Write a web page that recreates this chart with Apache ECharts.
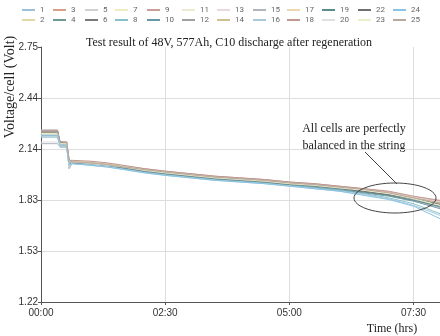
<!DOCTYPE html>
<html>
<head>
<meta charset="utf-8">
<script src="https://cdn.jsdelivr.net/npm/echarts@6/dist/echarts.min.js"></script>
<style>
  html, body { margin: 0; padding: 0; background: #fff; }
  #chart { width: 440px; height: 336px; }
</style>
</head>
<body>
<div id="chart"></div>
<script>
// time in minutes from start of discharge
var times = [0, 20, 23, 31, 34, 38, 60, 80, 100, 125, 150, 180, 210, 240, 270, 300, 330, 360, 390, 420, 450, 482];

// cell voltages (V), one array per cell
var v1  = [2.25, 2.25, 2.18, 2.18, 2.07, 2.06, 2.055, 2.045, 2.03, 2.01, 1.995, 1.98, 1.965, 1.955, 1.945, 1.93, 1.92, 1.905, 1.885, 1.86, 1.83, 1.79];
var v2  = [2.24, 2.24, 2.17, 2.17, 2.06, 2.06, 2.05, 2.04, 2.025, 2.01, 1.99, 1.975, 1.965, 1.95, 1.94, 1.93, 1.915, 1.9, 1.885, 1.865, 1.835, 1.8];
var v3  = [2.23, 2.23, 2.18, 2.18, 2.07, 2.065, 2.06, 2.05, 2.035, 2.015, 2.0, 1.985, 1.97, 1.96, 1.95, 1.935, 1.925, 1.91, 1.895, 1.875, 1.845, 1.815];
var v4  = [2.25, 2.25, 2.17, 2.16, 2.05, 2.055, 2.05, 2.04, 2.025, 2.005, 1.99, 1.975, 1.96, 1.95, 1.94, 1.925, 1.915, 1.9, 1.88, 1.86, 1.83, 1.79];
var v5  = [2.22, 2.22, 2.16, 2.16, 2.02, 2.06, 2.05, 2.04, 2.03, 2.01, 1.995, 1.98, 1.965, 1.955, 1.945, 1.93, 1.92, 1.905, 1.89, 1.87, 1.84, 1.8];
var v6  = [2.24, 2.24, 2.18, 2.17, 2.06, 2.06, 2.055, 2.045, 2.03, 2.015, 2.0, 1.985, 1.97, 1.96, 1.95, 1.935, 1.925, 1.91, 1.895, 1.875, 1.845, 1.81];
var v7  = [2.23, 2.23, 2.17, 2.17, 2.06, 2.065, 2.06, 2.05, 2.035, 2.015, 2.0, 1.985, 1.97, 1.955, 1.945, 1.935, 1.92, 1.905, 1.89, 1.87, 1.84, 1.805];
var v8  = [2.21, 2.21, 2.15, 2.15, 2.03, 2.05, 2.045, 2.035, 2.02, 2.0, 1.985, 1.97, 1.955, 1.945, 1.935, 1.92, 1.905, 1.89, 1.87, 1.845, 1.81, 1.75];
var v9  = [2.24, 2.24, 2.18, 2.18, 2.07, 2.065, 2.06, 2.05, 2.035, 2.02, 2.005, 1.99, 1.975, 1.965, 1.955, 1.94, 1.93, 1.915, 1.9, 1.88, 1.85, 1.825];
var v10 = [2.25, 2.25, 2.17, 2.17, 2.06, 2.055, 2.05, 2.04, 2.025, 2.005, 1.99, 1.975, 1.96, 1.95, 1.94, 1.925, 1.91, 1.895, 1.875, 1.855, 1.825, 1.78];
var v11 = [2.24, 2.24, 2.17, 2.17, 2.06, 2.06, 2.055, 2.045, 2.03, 2.01, 1.995, 1.98, 1.965, 1.955, 1.945, 1.93, 1.92, 1.905, 1.885, 1.865, 1.835, 1.8];
var v12 = [2.22, 2.22, 2.16, 2.16, 2.05, 2.055, 2.05, 2.04, 2.025, 2.01, 1.995, 1.98, 1.965, 1.95, 1.94, 1.93, 1.915, 1.9, 1.885, 1.865, 1.835, 1.8];
var v13 = [2.25, 2.25, 2.18, 2.18, 2.07, 2.065, 2.06, 2.05, 2.035, 2.015, 2.0, 1.985, 1.97, 1.96, 1.95, 1.935, 1.925, 1.91, 1.895, 1.875, 1.85, 1.82];
var v14 = [2.23, 2.23, 2.17, 2.17, 2.06, 2.06, 2.055, 2.045, 2.03, 2.01, 1.995, 1.98, 1.965, 1.955, 1.945, 1.93, 1.92, 1.905, 1.89, 1.87, 1.84, 1.81];
var v15 = [2.17, 2.17, 2.15, 2.15, 2.02, 2.055, 2.05, 2.04, 2.025, 2.005, 1.99, 1.975, 1.96, 1.95, 1.94, 1.925, 1.915, 1.9, 1.88, 1.86, 1.83, 1.785];
var v16 = [2.21, 2.21, 2.15, 2.15, 2.04, 2.05, 2.04, 2.03, 2.015, 1.995, 1.98, 1.965, 1.95, 1.94, 1.93, 1.915, 1.9, 1.885, 1.865, 1.84, 1.8, 1.74];
var v17 = [2.24, 2.24, 2.18, 2.18, 2.07, 2.065, 2.06, 2.05, 2.035, 2.015, 2.0, 1.985, 1.97, 1.96, 1.95, 1.935, 1.925, 1.91, 1.895, 1.875, 1.845, 1.815];
var v18 = [2.25, 2.25, 2.18, 2.18, 2.07, 2.07, 2.065, 2.055, 2.04, 2.02, 2.005, 1.99, 1.975, 1.965, 1.955, 1.94, 1.93, 1.915, 1.9, 1.885, 1.855, 1.83];
var v19 = [2.24, 2.24, 2.17, 2.17, 2.06, 2.055, 2.05, 2.04, 2.025, 2.005, 1.99, 1.975, 1.96, 1.95, 1.94, 1.925, 1.915, 1.9, 1.88, 1.86, 1.83, 1.795];
var v20 = [2.18, 2.18, 2.16, 2.16, 2.03, 2.06, 2.05, 2.04, 2.03, 2.01, 1.995, 1.98, 1.965, 1.955, 1.945, 1.93, 1.92, 1.905, 1.89, 1.87, 1.84, 1.8];
var v22 = [2.24, 2.24, 2.18, 2.17, 2.06, 2.06, 2.055, 2.045, 2.03, 2.01, 1.995, 1.98, 1.965, 1.955, 1.945, 1.93, 1.92, 1.905, 1.885, 1.865, 1.84, 1.805];
var v23 = [2.23, 2.23, 2.17, 2.17, 2.06, 2.06, 2.055, 2.045, 2.03, 2.01, 1.995, 1.98, 1.965, 1.955, 1.945, 1.93, 1.92, 1.905, 1.89, 1.87, 1.84, 1.8];
var v24 = [2.22, 2.22, 2.16, 2.16, 2.04, 2.05, 2.04, 2.03, 2.015, 1.995, 1.98, 1.965, 1.95, 1.94, 1.93, 1.915, 1.9, 1.885, 1.86, 1.835, 1.795, 1.72];
var v25 = [2.24, 2.24, 2.18, 2.18, 2.07, 2.06, 2.055, 2.045, 2.03, 2.015, 2.0, 1.985, 1.97, 1.96, 1.95, 1.935, 1.925, 1.91, 1.895, 1.875, 1.845, 1.815];

var cellNames = ['1', '2', '3', '4', '5', '6', '7', '8', '9', '10', '11', '12',
  '13', '14', '15', '16', '17', '18', '19', '20', '22', '23', '24', '25'];
var cellValues = [v1, v2, v3, v4, v5, v6, v7, v8, v9, v10, v11, v12,
  v13, v14, v15, v16, v17, v18, v19, v20, v22, v23, v24, v25];
var cellColors = ['#9cc0d8', '#e0d8a8', '#d8a088', '#6a9a90', '#d0d0d0', '#7a7a7a',
  '#f0ecc0', '#88c0c8', '#c8a098', '#6898a8', '#ecead0', '#a0a0a0',
  '#ecd8d8', '#d0c090', '#b0b4c0', '#a8c8dc', '#ecd8b0', '#c09890',
  '#5a8c8c', '#e0e0e0', '#707070', '#eceecc', '#88c4e4', '#b8aaa0'];

var yTicks = [1.22, 1.526, 1.832, 2.138, 2.444, 2.75];
var xTicks = [0, 150, 300, 450];

// legend columns (two cells per column)
var legendLeft = [22, 53, 85, 115, 147, 182, 217, 253, 287, 322, 358, 393];

function hhmm(min) {
  var h = Math.floor(min / 60), m = Math.round(min % 60);
  return (h < 10 ? '0' : '') + h + ':' + (m < 10 ? '0' : '') + m;
}

var chart = echarts.init(document.getElementById('chart'));

var legends = legendLeft.map(function (x, i) {
  return {
    orient: 'vertical',
    left: x,
    top: 6,
    itemWidth: 13,
    itemHeight: 2,
    itemGap: 2,
    icon: 'rect',
    padding: 0,
    selectedMode: false,
    data: cellNames.slice(i * 2, i * 2 + 2),
    textStyle: { fontSize: 8, lineHeight: 8, color: '#666', fontFamily: 'Roboto' }
  };
});

var series = cellNames.map(function (name, i) {
  return {
    name: name,
    type: 'line',
    showSymbol: false,
    symbol: 'none',
    color: cellColors[i],
    lineStyle: { width: 1 },
    data: times.map(function (t, k) { return [t, cellValues[i][k]]; })
  };
});

chart.setOption({
  animation: false,
  title: {
    text: 'Test result of 48V, 577Ah, C10 discharge after regeneration',
    left: 81,
    top: 32,
    textStyle: { fontFamily: 'Liberation Serif', fontSize: 12, fontWeight: 'normal', color: '#222' }
  },
  legend: legends,
  grid: { left: 41, right: 0, top: 47, bottom: 34 },
  xAxis: {
    type: 'value',
    min: 0,
    max: 482,
    axisLine: { lineStyle: { color: '#555' } },
    axisTick: { length: 3, customValues: xTicks, lineStyle: { color: '#555' } },
    axisLabel: {
      customValues: xTicks,
      fontSize: 10,
      color: '#333',
      margin: 6,
      fontFamily: 'Liberation Sans',
      formatter: hhmm
    },
    splitLine: { show: true, lineStyle: { color: ['rgba(0,0,0,0)', '#ddd', '#ddd', '#ddd'] } }
  },
  yAxis: {
    type: 'value',
    min: 1.22,
    max: 2.75,
    axisLine: { show: true, lineStyle: { color: '#555' } },
    axisTick: { show: true, length: 3, customValues: yTicks, lineStyle: { color: '#555' } },
    axisLabel: {
      customValues: yTicks,
      fontSize: 10,
      color: '#333',
      margin: 3,
      fontFamily: 'Liberation Sans',
      formatter: function (v) { return v.toFixed(2); }
    },
    splitLine: { show: true, lineStyle: { color: ['rgba(0,0,0,0)', '#ddd', '#ddd', '#ddd', '#ddd', 'rgba(0,0,0,0)'] } }
  },
  graphic: [
    {
      type: 'text',
      x: 10,
      y: 87,
      rotation: Math.PI / 2,
      style: {
        text: 'Voltage/cell (Volt)',
        font: '14px "Liberation Serif"',
        fill: '#222',
        align: 'center',
        verticalAlign: 'middle'
      }
    },
    {
      type: 'text',
      x: 392,
      y: 329,
      style: {
        text: 'Time (hrs)',
        font: '12px "Liberation Serif"',
        fill: '#222',
        align: 'center',
        verticalAlign: 'middle'
      }
    },
    {
      type: 'text',
      x: 354,
      y: 137,
      style: {
        text: 'All cells are perfectly\nbalanced in the string',
        font: '12px "Liberation Serif"',
        lineHeight: 17,
        fill: '#222',
        align: 'center',
        verticalAlign: 'middle'
      }
    },
    {
      type: 'ellipse',
      shape: { cx: 395, cy: 198, rx: 41, ry: 15 },
      style: { fill: 'none', stroke: '#444', lineWidth: 1 },
      z: 10
    },
    {
      type: 'line',
      shape: { x1: 365, y1: 152, x2: 397, y2: 184 },
      style: { stroke: '#444', lineWidth: 1 },
      z: 10
    }
  ],
  series: series
});
</script>
</body>
</html>
